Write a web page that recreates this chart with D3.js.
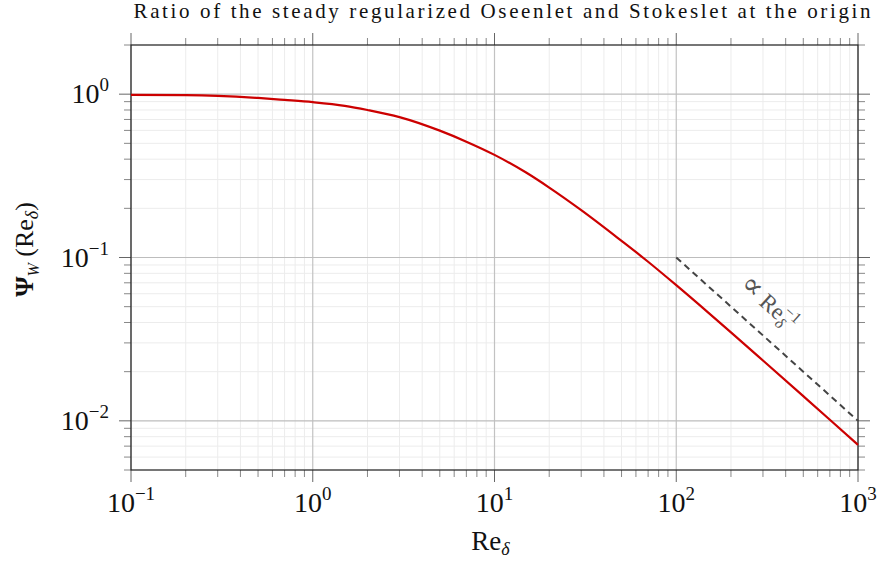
<!DOCTYPE html>
<html>
<head>
<meta charset="utf-8">
<script src="https://cdn.jsdelivr.net/npm/d3@7"></script>
<style>
  body { margin: 0; background: #fff; }
  svg { display: block; font-family: "Liberation Serif", "DejaVu Serif", serif; }
</style>
</head>
<body>
<svg class="svg" width="877" height="561"></svg>
<script>
// values
const reValues = [0.1, 0.2, 0.3, 0.5, 0.7, 1, 1.5, 2, 3, 5, 7, 10, 15, 20, 30, 50, 63, 70, 100, 150, 200, 300, 500, 700, 1000];
const psiValues = [0.99, 0.986, 0.976, 0.948, 0.922, 0.893, 0.848, 0.80, 0.724, 0.598, 0.512, 0.425, 0.330, 0.268, 0.195, 0.1265, 0.1035, 0.0942, 0.0677, 0.046, 0.0348, 0.0234, 0.01416, 0.01016, 0.00713];
const slopeRe = [100, 1000];
const slopePsi = [0.1, 0.01];
const xMajor = [0.1, 1, 10, 100, 1000];
const xMajorExp = ['−1', '0', '1', '2', '3'];
const yMajor = [0.01, 0.1, 1];
const yMajorExp = ['−2', '−1', '0'];

const W = 877, H = 561;
const margin = { top: 45, right: 19, bottom: 91, left: 131 };
const x0 = margin.left, x1 = W - margin.right, y0 = margin.top, y1 = H - margin.bottom;

const svg = d3.select('.svg');
const x = d3.scaleLog().domain([0.1, 1000]).range([x0, x1]);
const y = d3.scaleLog().domain([0.005, 2]).range([y1, y0]);

// minor tick values per decade
function minorTicks(lo, hi) {
    const out = [];
    for (let e = Math.floor(Math.log10(lo)); e <= Math.ceil(Math.log10(hi)); e++) {
        for (let m = 2; m <= 9; m++) {
            const v = m * Math.pow(10, e);
            if (v >= lo * 0.999 && v <= hi * 1.001) out.push(v);
        }
    }
    return out;
}
const xMinor = minorTicks(0.1, 1000);
const yMinor = minorTicks(0.005, 2);

const grid = svg.append('g');
grid.selectAll('.vminor').data(xMinor).join('line').classed('vminor', true)
    .attr('x1', d => x(d)).attr('x2', d => x(d)).attr('y1', y0).attr('y2', y1)
    .attr('stroke', '#ececec').attr('stroke-width', 1);
grid.selectAll('.hminor').data(yMinor).join('line').classed('hminor', true)
    .attr('x1', x0).attr('x2', x1).attr('y1', d => y(d)).attr('y2', d => y(d))
    .attr('stroke', '#ececec').attr('stroke-width', 1);
grid.selectAll('.vmajor').data(xMajor).join('line').classed('vmajor', true)
    .attr('x1', d => x(d)).attr('x2', d => x(d)).attr('y1', y0).attr('y2', y1)
    .attr('stroke', '#c2c2c2').attr('stroke-width', 1.2);
grid.selectAll('.hmajor').data(yMajor).join('line').classed('hmajor', true)
    .attr('x1', x0).attr('x2', x1).attr('y1', d => y(d)).attr('y2', d => y(d))
    .attr('stroke', '#bdbdbd').attr('stroke-width', 1.2);

// ticks outside the frame on all four sides
const ticks = svg.append('g');
const minorLen = 7, majorLen = 12;
function xTicks(cls, vals, len, color, atY, dir) {
    ticks.selectAll(`.${cls}`).data(vals).join('line').classed(cls, true)
        .attr('x1', d => x(d)).attr('x2', d => x(d))
        .attr('y1', atY).attr('y2', atY + dir * len)
        .attr('stroke', color).attr('stroke-width', 1);
}
function yTicks(cls, vals, len, color, atX, dir) {
    ticks.selectAll(`.${cls}`).data(vals).join('line').classed(cls, true)
        .attr('y1', d => y(d)).attr('y2', d => y(d))
        .attr('x1', atX).attr('x2', atX + dir * len)
        .attr('stroke', color).attr('stroke-width', 1);
}
xTicks('xt-min-b', xMinor, minorLen, '#888', y1, 1);
xTicks('xt-maj-b', xMajor, majorLen, '#666', y1, 1);
xTicks('xt-min-t', xMinor, minorLen, '#888', y0, -1);
xTicks('xt-maj-t', xMajor, majorLen, '#666', y0, -1);
yTicks('yt-min-l', yMinor, minorLen, '#888', x0, -1);
yTicks('yt-maj-l', yMajor, majorLen, '#666', x0, -1);
yTicks('yt-min-r', yMinor, minorLen, '#888', x1, 1);
yTicks('yt-maj-r', yMajor, majorLen, '#666', x1, 1);

// frame
svg.append('rect')
    .attr('x', x0).attr('y', y0).attr('width', x1 - x0).attr('height', y1 - y0)
    .attr('fill', 'none').attr('stroke', '#222').attr('stroke-width', 1.2);

// asymptote
const line = d3.line().x(d => x(d[0])).y(d => y(d[1]));
svg.append('path')
    .datum(d3.zip(slopeRe, slopePsi))
    .attr('d', line)
    .attr('fill', 'none').attr('stroke', '#444').attr('stroke-width', 2)
    .attr('stroke-dasharray', '6.5,4.5');

// curve
svg.append('path')
    .datum(d3.zip(reValues, psiValues))
    .attr('d', line.curve(d3.curveMonotoneX))
    .attr('fill', 'none').attr('stroke', '#cc0000').attr('stroke-width', 2.2);

// slope label, sitting above the dashed line
const angle = Math.atan2(y(0.01) - y(0.1), x(1000) - x(100)) * 180 / Math.PI;
const lab = svg.append('text')
    .attr('transform', `translate(764,309) rotate(${angle})`)
    .attr('text-anchor', 'middle').attr('fill', '#555').attr('font-size', 23);
lab.append('tspan').text('∝').attr('font-size', 30);
lab.append('tspan').text(' Re');
lab.append('tspan').text('δ').attr('font-size', 16).attr('font-style', 'italic').attr('dy', 5);
lab.append('tspan').text('−1').attr('font-size', 16).attr('dx', -8).attr('dy', -15);

// x tick labels
const xl = svg.selectAll('.xlab').data(xMajor).join('text').classed('xlab', true)
    .attr('x', d => x(d)).attr('y', 512)
    .attr('text-anchor', 'middle').attr('font-size', 28).attr('fill', '#111');
xl.append('tspan').text('10');
xl.append('tspan').text((d, i) => xMajorExp[i]).attr('font-size', 19).attr('dy', -12);

// y tick labels
const yl = svg.selectAll('.ylab').data(yMajor).join('text').classed('ylab', true)
    .attr('x', 109).attr('y', d => y(d) + 9)
    .attr('text-anchor', 'end').attr('font-size', 28).attr('fill', '#111');
yl.append('tspan').text('10');
yl.append('tspan').text((d, i) => yMajorExp[i]).attr('font-size', 19).attr('dy', -12);

// axis titles
const xt = svg.append('text').attr('x', (x0 + x1) / 2 - 4).attr('y', 550)
    .attr('text-anchor', 'middle').attr('font-size', 27).attr('fill', '#111');
xt.append('tspan').text('Re');
xt.append('tspan').text('δ').attr('font-size', 18).attr('font-style', 'italic').attr('dy', 5);

const yt = svg.append('text')
    .attr('transform', `translate(33,${(y0 + y1) / 2 - 8}) rotate(-90)`)
    .attr('text-anchor', 'middle').attr('font-size', 26).attr('fill', '#111');
yt.append('tspan').text('Ψ').attr('font-weight', 'bold');
yt.append('tspan').text('W').attr('font-size', 16).attr('font-style', 'italic').attr('dy', 6);
yt.append('tspan').text(' (Re').attr('dy', -6);
yt.append('tspan').text('δ').attr('font-size', 18).attr('font-style', 'italic').attr('dy', 5);
yt.append('tspan').text(')').attr('dy', -5);

// title
svg.append('text').attr('x', 502).attr('y', 18)
    .attr('text-anchor', 'middle').attr('font-size', 21).attr('fill', '#111')
    .attr('textLength', 737).attr('lengthAdjust', 'spacing')
    .text('Ratio of the steady regularized Oseenlet and Stokeslet at the origin');
</script>
</body>
</html>
